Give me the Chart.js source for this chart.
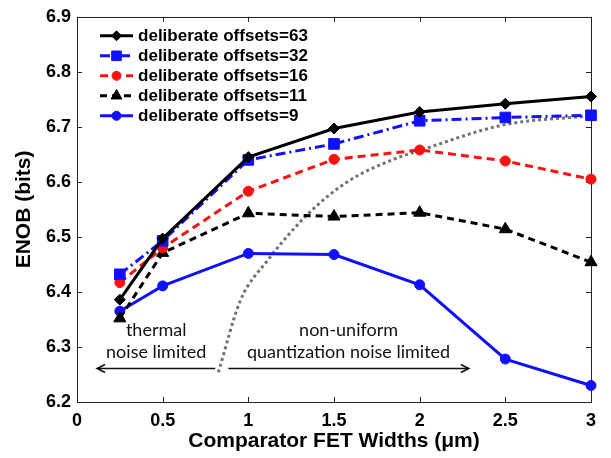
<!DOCTYPE html>
<html><head><meta charset="utf-8">
<script src="https://cdn.jsdelivr.net/npm/chart.js@4.4.1/dist/chart.umd.min.js"></script>
<style>html,body{margin:0;padding:0;background:#fff}#wrap{width:611px;height:458px}</style>
</head><body><div id="wrap"><canvas id="c" width="611" height="458"></canvas></div>
<script>
// ---- data ----
const widths = [0.25, 0.5, 1, 1.5, 2, 2.5, 3];
const offsets63 = [6.386, 6.497, 6.645, 6.697, 6.727, 6.742, 6.755];
const offsets32 = [6.432, 6.493, 6.640, 6.669, 6.711, 6.717, 6.721];
const offsets16 = [6.417, 6.480, 6.583, 6.641, 6.658, 6.638, 6.605];
const offsets11 = [6.352, 6.471, 6.543, 6.537, 6.544, 6.514, 6.454];
const offsets9  = [6.365, 6.411, 6.470, 6.468, 6.413, 6.278, 6.230];
const seriesLabels = ['deliberate offsets=63','deliberate offsets=32','deliberate offsets=16','deliberate offsets=11','deliberate offsets=9'];
const boundaryX = [0.825, 0.953, 1.109, 1.343, 1.577, 1.848, 2.0, 2.497, 3.0];
const boundaryY = [6.254, 6.384, 6.456, 6.540, 6.600, 6.641, 6.657, 6.704, 6.720];
const xTickValues = [0, 0.5, 1, 1.5, 2, 2.5, 3];
const xTickLabels = ['0','0.5','1','1.5','2','2.5','3'];
const yTickValues = [6.2, 6.3, 6.4, 6.5, 6.6, 6.7, 6.8, 6.9];
const yTickLabels = ['6.2','6.3','6.4','6.5','6.6','6.7','6.8','6.9'];
const regionText1 = ['thermal', 'noise limited'];
const regionText2 = ['non-uniform', 'quantization noise limited'];

// ---- annotation anchors (data coordinates) ----
const text1Anchor = {x: 0.462, y1: 6.331, y2: 6.291};
const text2Anchor = {x: 1.585, y1: 6.331, y2: 6.291};
const arrowLeft = {x1: 0.807, x2: 0.117, y: 6.262};
const arrowRight = {x1: 0.883, x2: 2.287, y: 6.262};

const BLUE = '#1010ff', RED = '#ff1010', BLACK = '#000000';
const FONT = 'Arial, "Liberation Sans", sans-serif';
const LEGEND_TEXT_WIDTH = 170; // width of the longest legend entry in the reference

function pts(ys){ return widths.map((x,i)=>({x:x, y:ys[i]})); }

const datasets = [
  {label: seriesLabels[0], data: pts(offsets63), borderColor: BLACK, backgroundColor: BLACK, pointBackgroundColor: BLACK, pointBorderColor: BLACK, borderWidth: 3, pointStyle: 'rectRot', pointRadius: 5.5, borderDash: []},
  {label: seriesLabels[1], data: pts(offsets32), borderColor: BLUE, backgroundColor: BLUE, pointBackgroundColor: BLUE, pointBorderColor: BLUE, borderWidth: 3, pointStyle: 'rect', pointRadius: 7.5, borderDash: [10,4,2,4]},
  {label: seriesLabels[2], data: pts(offsets16), borderColor: RED, backgroundColor: RED, pointBackgroundColor: RED, pointBorderColor: RED, borderWidth: 3, pointStyle: 'circle', pointRadius: 5, borderDash: [8,5]},
  {label: seriesLabels[3], data: pts(offsets11), borderColor: BLACK, backgroundColor: BLACK, pointBackgroundColor: BLACK, pointBorderColor: BLACK, borderWidth: 3, pointStyle: 'triangle', pointRadius: 7, borderDash: [7,5]},
  {label: seriesLabels[4], data: pts(offsets9), borderColor: BLUE, backgroundColor: BLUE, pointBackgroundColor: BLUE, pointBorderColor: BLUE, borderWidth: 3, pointStyle: 'circle', pointRadius: 5, borderDash: []},
];
datasets.forEach(d => { d.fill = false; d.tension = 0; d.clip = 10; d.pointBorderWidth = 1; d.isSeries = true; });

datasets.push({
  label: 'boundary', data: boundaryX.map((x,i)=>({x:x, y:boundaryY[i]})),
  borderColor: '#727272', borderWidth: 3, borderDash: [3,3], pointRadius: 0,
  cubicInterpolationMode: 'monotone', fill: false, clip: 10, isSeries: false
});

const framePlugin = {
  id: 'frame',
  beforeDatasetsDraw(chart) {
    const {ctx, chartArea: a, scales: {x, y}} = chart;
    ctx.save();
    ctx.strokeStyle = '#222'; ctx.lineWidth = 1;
    ctx.strokeRect(Math.round(a.left)+0.5, Math.round(a.top)+0.5, Math.round(a.right-a.left), Math.round(a.bottom-a.top));
    const L = 5;
    ctx.beginPath();
    xTickValues.forEach(v => {
      const px = Math.round(x.getPixelForValue(v)) + 0.5;
      ctx.moveTo(px, a.bottom); ctx.lineTo(px, a.bottom - L);
      ctx.moveTo(px, a.top); ctx.lineTo(px, a.top + L);
    });
    yTickValues.forEach(v => {
      const py = Math.round(y.getPixelForValue(v)) + 0.5;
      ctx.moveTo(a.left, py); ctx.lineTo(a.left + L, py);
      ctx.moveTo(a.right, py); ctx.lineTo(a.right - L, py);
    });
    ctx.stroke();
    ctx.restore();
  },
  afterDraw(chart) {
    const {ctx, chartArea: a, scales: {x, y}} = chart;
    ctx.save();
    // annotation text
    ctx.fillStyle = '#111';
    ctx.font = '18px Lato, "Open Sans", sans-serif';
    ctx.textAlign = 'center'; ctx.textBaseline = 'middle';
    ctx.fillText(regionText1[0], x.getPixelForValue(text1Anchor.x), y.getPixelForValue(text1Anchor.y1));
    ctx.fillText(regionText1[1], x.getPixelForValue(text1Anchor.x), y.getPixelForValue(text1Anchor.y2));
    ctx.fillText(regionText2[0], x.getPixelForValue(text2Anchor.x), y.getPixelForValue(text2Anchor.y1));
    ctx.fillText(regionText2[1], x.getPixelForValue(text2Anchor.x), y.getPixelForValue(text2Anchor.y2));
    // arrows
    ctx.strokeStyle = '#111'; ctx.lineWidth = 1.5;
    [arrowLeft, arrowRight].forEach(ar => {
      const x1 = x.getPixelForValue(ar.x1), x2 = x.getPixelForValue(ar.x2), py = Math.round(y.getPixelForValue(ar.y)) + 0.5;
      const dir = x2 > x1 ? 1 : -1;
      ctx.beginPath();
      ctx.moveTo(x1, py); ctx.lineTo(x2, py);
      ctx.moveTo(x2 - dir*8, py - 4); ctx.lineTo(x2, py); ctx.lineTo(x2 - dir*8, py + 4);
      ctx.stroke();
    });
    // legend (font sized so that the longest entry matches the reference width)
    ctx.font = 'bold 17px ' + FONT;
    const w17 = ctx.measureText(seriesLabels[0]).width || LEGEND_TEXT_WIDTH;
    const legendSize = Math.max(15, Math.min(21, 17 * LEGEND_TEXT_WIDTH / w17));
    const lx0 = a.left + 23, lx1 = a.left + 56, ly0 = a.top + 19;
    chart.data.datasets.filter(d => d.isSeries).forEach((ds, i) => {
      const yy = ly0 + 20*i;
      ctx.strokeStyle = ds.borderColor; ctx.lineWidth = ds.borderWidth;
      ctx.setLineDash(ds.borderDash || []);
      ctx.beginPath(); ctx.moveTo(lx0, yy); ctx.lineTo(lx1, yy); ctx.stroke();
      ctx.setLineDash([]);
      ctx.fillStyle = ds.pointBackgroundColor; ctx.strokeStyle = ds.pointBorderColor; ctx.lineWidth = 1;
      Chart.helpers.drawPoint(ctx, {pointStyle: ds.pointStyle, radius: ds.pointRadius*0.9, borderWidth: 1, rotation: 0}, (lx0+lx1)/2, yy);
      ctx.fillStyle = '#000';
      ctx.font = 'bold ' + legendSize.toFixed(2) + 'px ' + FONT;
      ctx.textAlign = 'left'; ctx.textBaseline = 'middle';
      ctx.fillText(ds.label, lx1 + 5, yy + 1);
    });
    ctx.restore();
  }
};

new Chart(document.getElementById('c'), {
  type: 'line',
  data: {datasets: datasets},
  plugins: [framePlugin],
  options: {
    responsive: false, animation: false, devicePixelRatio: 1,
    layout: {padding: {top: 13, right: 20, left: 0, bottom: 0}},
    plugins: {legend: {display: false}, tooltip: {enabled: false}},
    scales: {
      x: {
        type: 'linear', min: 0, max: 3,
        grid: {display: false, drawTicks: false}, border: {display: false},
        afterBuildTicks: s => { s.ticks = xTickValues.map(v => ({value: v})); },
        afterFit: s => { s.height = 56; },
        ticks: {callback: (v, i) => xTickLabels[i], padding: 8, color: '#000', autoSkip: false, maxRotation: 0,
                font: {family: FONT, size: 18, weight: 'bold'}},
        title: {display: true, text: 'Comparator FET Widths (\u03bcm)', color: '#000', padding: {top: 0, bottom: 4},
                font: {family: FONT, size: 21, weight: 'bold'}}
      },
      y: {
        type: 'linear', min: 6.2, max: 6.9,
        grid: {display: false, drawTicks: false}, border: {display: false},
        afterBuildTicks: s => { s.ticks = yTickValues.map(v => ({value: v})); },
        afterFit: s => { s.width = 77; },
        ticks: {callback: (v, i) => yTickLabels[i], padding: 6, color: '#000', autoSkip: false,
                font: {family: FONT, size: 18, weight: 'bold'}},
        title: {display: true, text: 'ENOB (bits)', color: '#000', padding: {top: 12, bottom: 0},
                font: {family: FONT, size: 21, weight: 'bold'}}
      }
    }
  }
});
</script>
</body></html>
